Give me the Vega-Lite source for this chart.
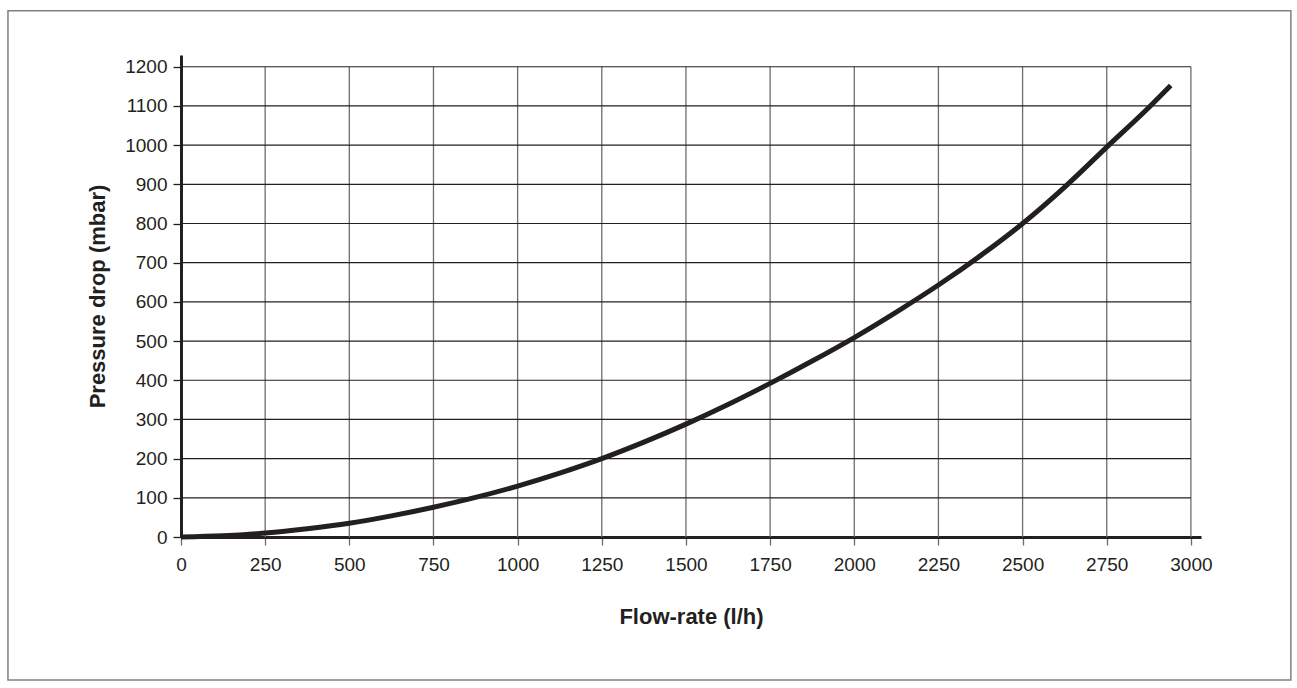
{
  "$schema": "https://vega.github.io/schema/vega-lite/v6.json",
  "width": 1020,
  "height": 482,
  "autosize": {"type": "none"},
  "padding": {"left": 181, "top": 55, "right": 96, "bottom": 151},
  "background": "white",
  "config": {
    "view": {"stroke": null},
    "font": "Liberation Sans",
    "axis": {
      "labelFont": "Liberation Sans",
      "titleFont": "Liberation Sans",
      "labelFontSize": 19,
      "titleFontSize": 22,
      "labelColor": "#231f20",
      "titleColor": "#231f20",
      "titleFontWeight": "bold",
      "domainColor": "#231f20",
      "domainWidth": 3,
      "tickColor": "#231f20",
      "tickWidth": 1.3,
      "tickSize": 8,
      "grid": false,
      "format": "d"
    }
  },
  "datasets": {
    "curve": [
      {"flow": 0, "dp": 0},
      {"flow": 125, "dp": 3},
      {"flow": 250, "dp": 10},
      {"flow": 375, "dp": 21},
      {"flow": 500, "dp": 35},
      {"flow": 625, "dp": 54},
      {"flow": 750, "dp": 76},
      {"flow": 875, "dp": 101},
      {"flow": 1000, "dp": 130},
      {"flow": 1125, "dp": 163},
      {"flow": 1250, "dp": 200},
      {"flow": 1375, "dp": 242},
      {"flow": 1500, "dp": 288},
      {"flow": 1625, "dp": 338},
      {"flow": 1750, "dp": 392},
      {"flow": 1875, "dp": 449},
      {"flow": 2000, "dp": 509},
      {"flow": 2125, "dp": 574},
      {"flow": 2250, "dp": 643},
      {"flow": 2375, "dp": 718},
      {"flow": 2500, "dp": 800},
      {"flow": 2625, "dp": 893},
      {"flow": 2750, "dp": 995},
      {"flow": 2875, "dp": 1096},
      {"flow": 2940, "dp": 1152}
    ],
    "vgrid": [
      {"gx": 250}, {"gx": 500}, {"gx": 750}, {"gx": 1000}, {"gx": 1250}, {"gx": 1500},
      {"gx": 1750}, {"gx": 2000}, {"gx": 2250}, {"gx": 2500}, {"gx": 2750}, {"gx": 3000}
    ],
    "hgrid": [
      {"gy": 100}, {"gy": 200}, {"gy": 300}, {"gy": 400}, {"gy": 500}, {"gy": 600},
      {"gy": 700}, {"gy": 800}, {"gy": 900}, {"gy": 1000}, {"gy": 1100}, {"gy": 1200}
    ],
    "frame": [{"x0": -514, "x1": 3297, "y0": -365, "y1": 1343}]
  },
  "layer": [
    {
      "data": {"name": "frame"},
      "mark": {"type": "rect", "fill": null, "stroke": "#808080", "strokeWidth": 1.5, "clip": false},
      "encoding": {
        "x": {"field": "x0", "type": "quantitative", "title": "Flow-rate (l/h)", "scale": {"domain": [0, 3030], "nice": false, "zero": false}},
        "x2": {"field": "x1"},
        "y": {"field": "y0", "type": "quantitative", "title": "Pressure drop (mbar)", "scale": {"domain": [0, 1230], "nice": false, "zero": false}},
        "y2": {"field": "y1"}
      }
    },
    {
      "data": {"name": "vgrid"},
      "mark": {"type": "rule", "color": "#6d6d6d", "strokeWidth": 1.3},
      "encoding": {
        "x": {"field": "gx", "type": "quantitative", "title": "Flow-rate (l/h)"},
        "y": {"datum": 0},
        "y2": {"datum": 1200}
      }
    },
    {
      "data": {"name": "hgrid"},
      "mark": {"type": "rule", "color": "#231f20", "strokeWidth": 1.2},
      "encoding": {
        "y": {"field": "gy", "type": "quantitative", "title": "Pressure drop (mbar)"},
        "x": {"datum": 0},
        "x2": {"datum": 3000}
      }
    },
    {
      "data": {"name": "curve"},
      "mark": {"type": "line", "color": "#231f20", "strokeWidth": 5, "interpolate": "monotone", "strokeCap": "butt"},
      "encoding": {
        "x": {
          "field": "flow", "type": "quantitative",
          "title": "Flow-rate (l/h)",
          "axis": {
            "values": [0, 250, 500, 750, 1000, 1250, 1500, 1750, 2000, 2250, 2500, 2750, 3000],
            "labelPadding": 10,
            "titlePadding": 32,
            "labelFlush": false,
            "labelOverlap": false,
            "tickColor": "#6d6d6d"
          }
        },
        "y": {
          "field": "dp", "type": "quantitative",
          "title": "Pressure drop (mbar)",
          "axis": {
            "values": [0, 100, 200, 300, 400, 500, 600, 700, 800, 900, 1000, 1100, 1200],
            "labelPadding": 6,
            "titlePadding": 15,
            "labelOverlap": false,
            "labelFlush": false
          }
        }
      }
    }
  ]
}
